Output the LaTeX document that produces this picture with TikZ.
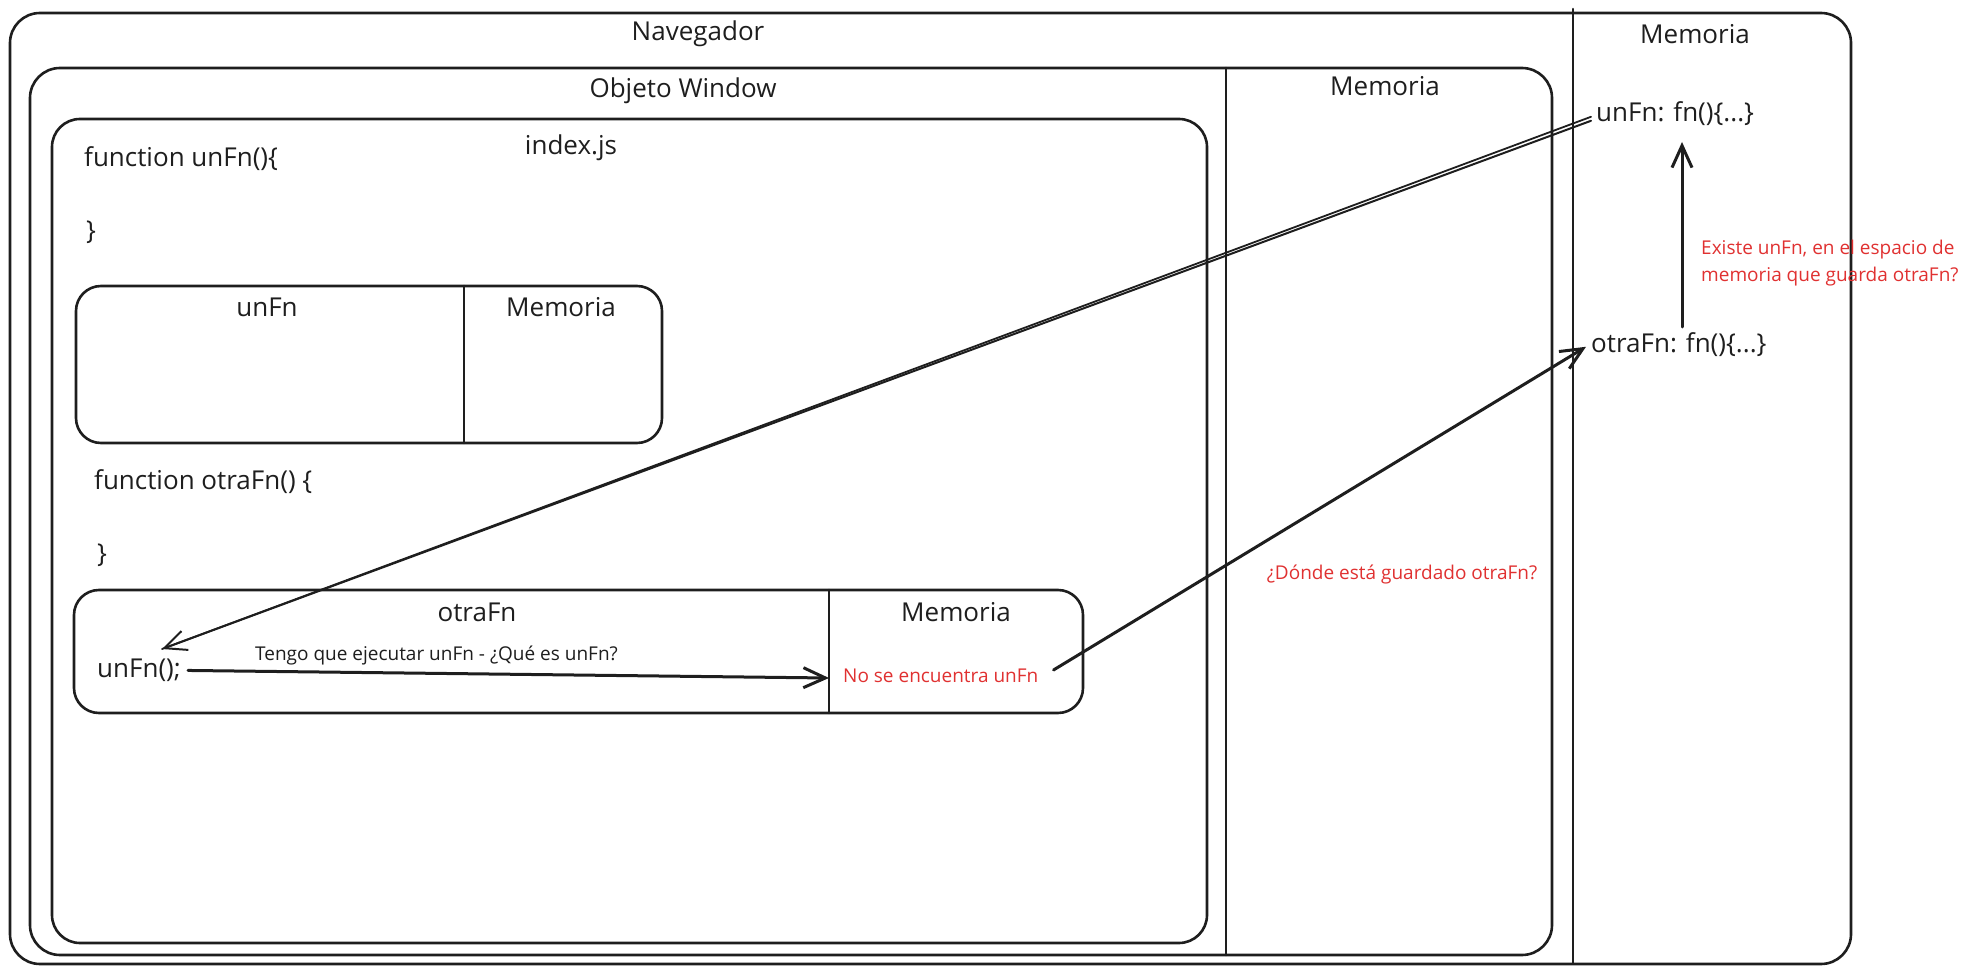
\documentclass[tikz,border=0pt]{standalone}
\usepackage{fontspec}
\setmainfont{Open Sans}
\usetikzlibrary{arrows.meta}
\definecolor{ink}{HTML}{1E1E1E}
\definecolor{redtxt}{HTML}{E03131}
\begin{document}
\begin{tikzpicture}[x=1pt,y=-1pt,line join=round,line cap=round,
  frame/.style={draw=ink,line width=2.6pt,rounded corners=30pt},
  subframe/.style={draw=ink,line width=2.6pt,rounded corners=25pt},
  divline/.style={draw=ink,line width=2.6pt},
  big/.style={font=\fontsize{26}{31}\selectfont,text=ink,inner sep=0pt},
  small/.style={font=\fontsize{19}{27}\selectfont,text=ink,inner sep=0pt},
  redt/.style={small,text=redtxt},
  barb/.style={-{Straight Barb[length=22pt,width=20pt]}},
  conn/.style={draw=ink,line width=3pt,barb}]
\useasboundingbox (0,0) rectangle (1970,973);
% frames
\draw[frame] (10,13) rectangle (1851,964);
\draw[divline] (1573,9) -- (1573,963);
\draw[frame] (30,68) rectangle (1552,955);
\draw[divline] (1226,68) -- (1226,955);
\draw[frame,rounded corners=28pt] (52,119) rectangle (1207,943);
\draw[subframe] (76,286) rectangle (662,443);
\draw[divline] (464,286) -- (464,443);
\draw[subframe] (74,590) rectangle (1083,713);
\draw[divline] (829,590) -- (829,713);
% titles
\node[big,anchor=mid] (nav) at (698,38) {Navegador};
\node[big,anchor=mid] (memr) at (1695,41) {Memoria};
\node[big,anchor=mid] (win) at (683,95) {Objeto Window};
\node[big,anchor=mid] (memm) at (1385,93) {Memoria};
\node[big,anchor=mid] (idx) at (571,152) {index.js};
\node[big,anchor=mid west] (f1) at (84,164) {function unFn()\{};
\node[big,anchor=mid west] (c1) at (86,237) {\}};
\node[big,anchor=mid] (unfnt) at (267,314) {unFn};
\node[big,anchor=mid] (unfnm) at (561,314) {Memoria};
\node[big,anchor=mid west] (f2) at (94,487) {function otraFn() \{};
\node[big,anchor=mid west] (c2) at (97,560) {\}};
\node[big,anchor=mid] (otrat) at (477,619) {otraFn};
\node[big,anchor=mid] (otram) at (956,619) {Memoria};
\node[big,anchor=mid west] (call) at (97,675) {unFn();};
\node[small,anchor=base west] (tengo) at (255,660) {Tengo que ejecutar unFn - ¿Qué es unFn?};
\node[redt,anchor=mid west] (nse) at (843,680) {No se encuentra unFn};
\node[redt,anchor=mid] (donde) at (1402,577) {¿Dónde está guardado otraFn?};
\node[big,anchor=mid west] (unfnmem) at (1596,119) {unFn: fn()\{...\}};
\node[big,anchor=mid west] (otramem) at (1591,350) {otraFn: fn()\{...\}};
\node[redt,anchor=north west,align=left] (existe) at (1701,240) {Existe unFn, en el espacio de\\memoria que guarda otraFn?};
% connectors
\coordinate (callhit) at (162,649);
\draw[ink,line width=1.8pt] ([shift={(-5,3)}]unfnmem.west) -- (callhit);
\draw[ink,line width=2pt,barb] ([shift={(-5,7)}]unfnmem.west) -- (callhit);
\coordinate (memdiv) at (829,678);
\draw[conn] ([xshift=7pt]call.east) -- (memdiv);
\draw[conn] ([shift={(15,-6)}]nse.east) -- ([shift={(-5,2)}]otramem.west);
\coordinate (vstart) at (1682,327);
\coordinate (vend) at (1682,142);
\draw[conn] (vstart) -- (vend);
\end{tikzpicture}
\end{document}
